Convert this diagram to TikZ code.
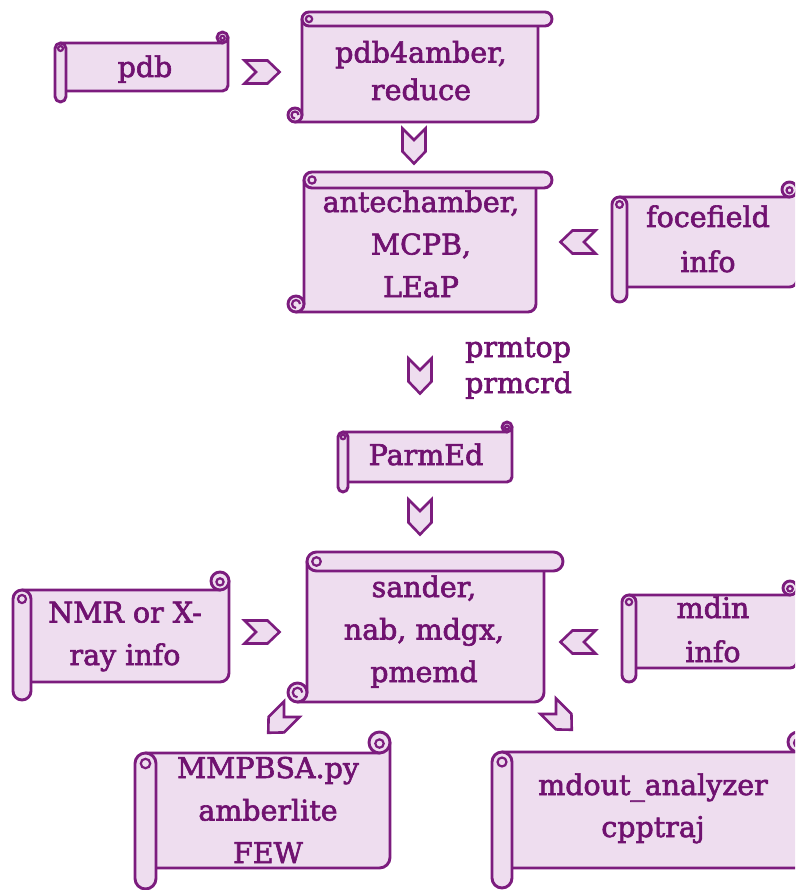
\documentclass[tikz,border=0pt]{standalone}
\usepackage{fontspec}
\setmainfont{DejaVu Serif}
\newfontfamily\scrollfont[FakeBold=2.2]{DejaVu Serif}

\definecolor{scrollline}{RGB}{124,28,126}
\definecolor{scrollfill}{RGB}{238,221,239}
\definecolor{scrolltext}{RGB}{112,18,112}

\tikzset{
  scrollpart/.style={draw=scrollline, fill=scrollfill, line width=2.9pt, line join=round},
  curlline/.style={draw=scrollline, line width=2.2pt},
  scrolltxt/.style={text=scrolltext, font=\scrollfont\fontsize{28.5}{42.5}\selectfont,
                    align=center, inner sep=0pt, anchor=base},
  chevarrow/.pic={
    \filldraw[scrollpart, line width=2.6pt, line join=miter]
      (-17.5,-11.5) -- (5.5,-11.5) -- (17.5,0) -- (5.5,11.5) -- (-17.5,11.5) -- (-6,0) -- cycle;
  }
}

% scroll with a roll along the top: #1,#2 = left/top, #3,#4 = right/bottom, #5 = roll size
\newcommand\topscroll[5]{%
  \pgfmathsetmacro\scrR{#5/2}%
  \filldraw[scrollpart] ({#1+#5},{#2+\scrR}) -- ({#3-#5},{#2+\scrR})
    [rounded corners=\scrR pt] -- ({#3-#5},#4) [sharp corners] -- ({#1+\scrR},#4)
    -- ({#1+#5},{#4-\scrR}) -- cycle;
  \filldraw[scrollpart] ({#1+\scrR},{#4-\scrR}) circle[radius=\scrR];
  \draw[curlline] ({#1+\scrR*1.5},{#4-\scrR}) arc[start angle=0, end angle=-270, radius=\scrR*0.5];
  \filldraw[scrollpart, rounded corners=\scrR pt] ({#1+#5},#2) rectangle (#3,{#2+#5});
  \draw[curlline] ({#1+#5+\scrR},{#2+\scrR}) circle[radius=\scrR*0.45];
}

% scroll with a roll along the left side
\newcommand\sidescroll[5]{%
  \pgfmathsetmacro\scrR{#5/2}%
  \filldraw[scrollpart] ({#1+\scrR},{#2+#5}) -- ({#3-\scrR},{#2+#5}) -- (#3,{#2+\scrR})
    [rounded corners=\scrR pt] -- (#3,{#4-#5}) [sharp corners] -- ({#1+\scrR},{#4-#5}) -- cycle;
  \filldraw[scrollpart] ({#3-\scrR},{#2+\scrR}) circle[radius=\scrR];
  \draw[curlline] ({#3-\scrR},{#2+\scrR*1.1}) circle[radius=\scrR*0.4];
  \filldraw[scrollpart, rounded corners=\scrR pt] (#1,{#2+#5}) rectangle ({#1+#5},#4);
  \draw[curlline] ({#1+\scrR},{#2+#5+\scrR}) circle[radius=\scrR*0.45];
}

\begin{document}
\begin{tikzpicture}[x=1pt, y=-1pt]
  \path[use as bounding box] (0,0) rectangle (795,890);
  \clip (0,0) rectangle (795,890);

  % scroll shapes
  \sidescroll{55}{32}{228}{102}{11}
  \topscroll{288}{12}{552}{122}{14}
  \topscroll{288}{172}{552}{312}{16}
  \sidescroll{612}{182}{797}{302}{15}
  \sidescroll{338}{422}{512}{492}{10}
  \topscroll{288}{552}{563}{702}{19}
  \sidescroll{13}{572}{229}{700}{18}
  \sidescroll{622}{581}{797}{682}{14}
  \sidescroll{135}{732}{390}{889}{21}
  \sidescroll{492}{732}{808}{888}{20}

  % texts (each node sits on the baseline of its last line)
  \node[scrolltxt] (pdb) at (145,77) {pdb};
  \node[scrolltxt, font=\scrollfont\fontsize{28.5}{37.5}\selectfont] (prep) at (421,100) {pdb4amber,\\reduce};
  \node[scrolltxt] (build) at (421,297) {antechamber,\\MCPB,\\LEaP};
  \node[scrolltxt, font=\scrollfont\fontsize{28.5}{45}\selectfont] (ff) at (708,272) {focefield\\info};
  \node[scrolltxt, align=left, anchor=base west, font=\scrollfont\fontsize{28.5}{36}\selectfont]
    (files) at (465,393) {prmtop\\prmcrd};
  \node[scrolltxt] (parmed) at (426,465) {ParmEd};
  \node[scrolltxt] (md) at (424,682) {sander,\\nab, mdgx,\\pmemd};
  \node[scrolltxt] (exp) at (125,665) {NMR or X-\\ray info};
  \node[scrolltxt, font=\scrollfont\fontsize{28.5}{44}\selectfont] (mdin) at (713,662) {mdin\\info};
  \node[scrolltxt] (ana) at (268,863) {MMPBSA.py\\amberlite\\FEW};
  \node[scrolltxt, font=\scrollfont\fontsize{28.5}{42}\selectfont] (out) at (653,837) {mdout\_analyzer\\cpptraj};

  % chevron arrows
  \pic at (262,72) {chevarrow};
  \pic[rotate=-90] at (414,146) {chevarrow};
  \pic[rotate=180] at (578,242) {chevarrow};
  \pic[rotate=-90] at (420,376) {chevarrow};
  \pic[rotate=-90] at (420,517) {chevarrow};
  \pic at (262,632) {chevarrow};
  \pic[rotate=180] at (578,642) {chevarrow};
  \pic[rotate=-135, scale=0.95] at (280,721) {chevarrow};
  \pic[rotate=-45, scale=0.95] at (560,718) {chevarrow};
\end{tikzpicture}
\end{document}
